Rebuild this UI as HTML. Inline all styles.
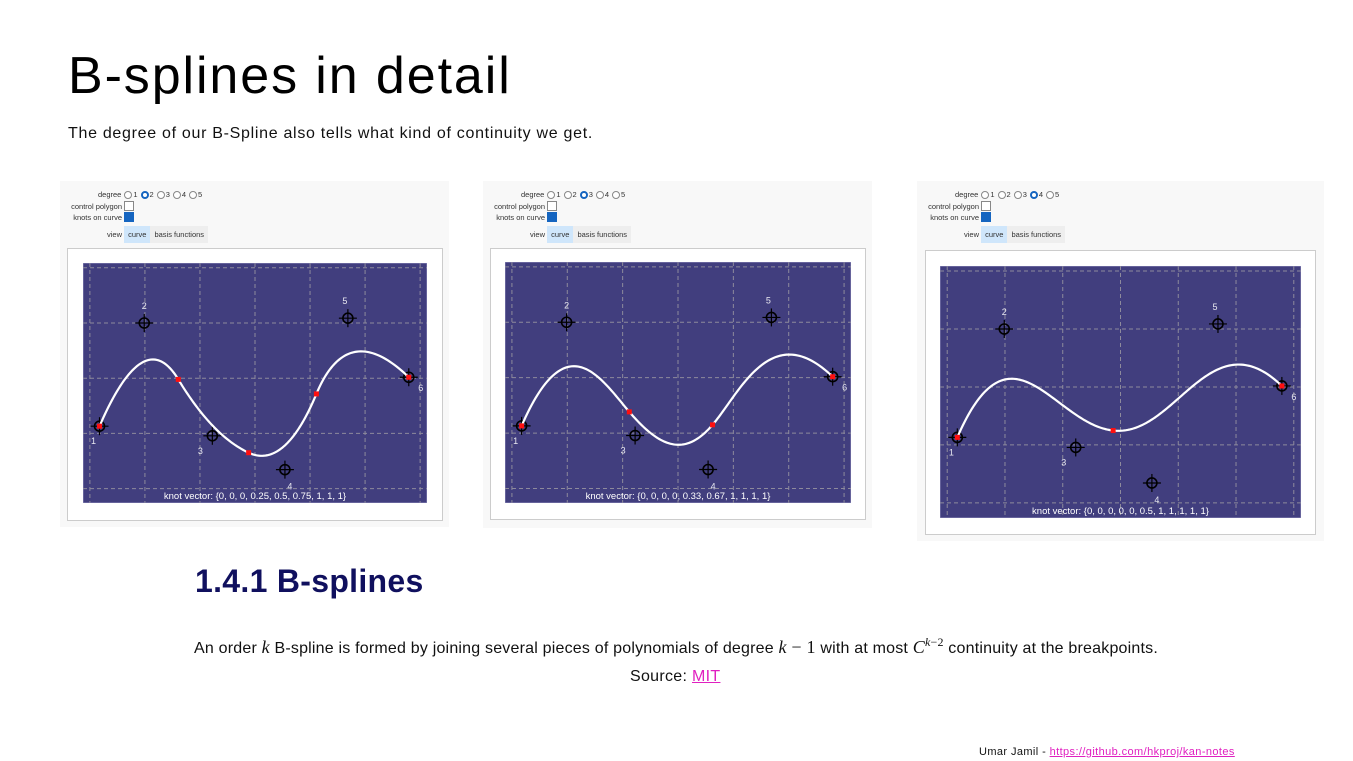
<!DOCTYPE html>
<html><head><meta charset="utf-8">
<style>
body{margin:0;width:1353px;height:761px;background:#fff;position:relative;overflow:hidden;font-family:"Liberation Sans",sans-serif;}
.abs{position:absolute;white-space:nowrap;}
.widget{position:absolute;background:#f8f8f8;}
.ctl{position:absolute;font-size:7.5px;color:#333;}
.radio{display:inline-block;width:8px;height:8px;border:1px solid #888;border-radius:50%;vertical-align:-2px;margin:0 1px 0 3px;background:#fff;box-sizing:border-box;}
.radio.on{border:2.5px solid #1565c0;}
.chk{display:inline-block;width:8px;height:8px;border:1px solid #888;vertical-align:-2px;margin-left:2px;background:#fff;}
.chk.on{background:#1565c0;border-color:#1565c0;}
.tab{display:inline-block;padding:3px 4px;background:#eee;}
.tab.on{background:#cfe6fb;}
.plotbox{position:absolute;background:#fff;border:1px solid #ccc;}
</style></head><body>
<div class="abs" style="left:68px;top:46px;font-size:52px;color:#000;letter-spacing:1.9px;">B-splines in detail</div>
<div class="abs" style="left:68px;top:125px;font-size:16px;color:#111;letter-spacing:0.7px;">The degree of our B-Spline also tells what kind of continuity we get.</div>
<div id="panels"></div>
<div class="abs" style="left:195px;top:563px;font-size:32px;font-weight:bold;color:#10105e;letter-spacing:0.3px;">1.4.1 B-splines</div>
<div class="abs" style="left:194px;top:635px;font-size:16px;color:#111;letter-spacing:0.2px;">An order <i style="font-family:'Liberation Serif',serif;font-size:18px;">k</i> B-spline is formed by joining several pieces of polynomials of degree <span style="font-family:'Liberation Serif',serif;font-size:18px;"><i>k</i> − 1</span> with at most <span style="font-family:'Liberation Serif',serif;font-size:18px;"><i>C</i><sup style="font-size:12px;"><i>k</i>−2</sup></span> continuity at the breakpoints.</div>
<div class="abs" style="left:630px;top:668px;font-size:16px;color:#111;letter-spacing:0.3px;">Source: <a style="color:#e020c0;text-decoration:underline;">MIT</a></div>
<div class="abs" style="left:979px;top:746px;font-size:11px;color:#111;letter-spacing:0.4px;">Umar Jamil - <a style="color:#e020c0;text-decoration:underline;">https://github.com/hkproj/kan-notes</a></div>
<script>
// control points (normalized within plot area)
const ctrlX = [0.048, 0.178, 0.376, 0.587, 0.770, 0.947];
const ctrlY = [0.680, 0.250, 0.720, 0.861, 0.230, 0.476];
const degrees = [2, 3, 4];
const knots1 = [0, 0, 0, 0.25, 0.5, 0.75, 1, 1, 1];
const knots2 = [0, 0, 0, 0, 0.33, 0.67, 1, 1, 1, 1];
const knots3 = [0, 0, 0, 0, 0, 0.5, 1, 1, 1, 1, 1];
const knotLabels = ["{0, 0, 0, 0.25, 0.5, 0.75, 1, 1, 1}", "{0, 0, 0, 0, 0.33, 0.67, 1, 1, 1, 1}", "{0, 0, 0, 0, 0, 0.5, 1, 1, 1, 1, 1}"];
const gridX = [0.02, 0.18, 0.34, 0.50, 0.66, 0.82, 0.98];
const gridY = [0.02, 0.25, 0.48, 0.71, 0.94];
const knotSets = [knots1, knots2, knots3];

const geo = [
 {wx:60,wy:181,ww:389,wh:346,bx:67,by:248,bw:376,bh:273,px:83,py:263,pw:344,ph:240},
 {wx:483,wy:181,ww:389,wh:347,bx:490,by:248,bw:376,bh:272,px:505,py:262,pw:346,ph:241},
 {wx:917,wy:181,ww:407,wh:360,bx:925,by:250,bw:391,bh:285,px:940,py:266,pw:361,ph:252}
];
function deBoor(t,k,p,U,P){
  let s=p; for(let i=p;i<U.length-p-1;i++){ if(t>=U[i]&&t<U[i+1]) s=i; }
  if(t>=U[U.length-p-1]) s=U.length-p-2;
  const d=[]; for(let j=0;j<=p;j++) d.push([P[j+s-p][0],P[j+s-p][1]]);
  for(let r=1;r<=p;r++) for(let j=p;j>=r;j--){
    const i=j+s-p; const den=U[i+p-r+1]-U[i]; const a=den===0?0:(t-U[i])/den;
    d[j]=[(1-a)*d[j-1][0]+a*d[j][0],(1-a)*d[j-1][1]+a*d[j][1]];
  }
  return d[p];
}
const NS="http://www.w3.org/2000/svg";
const root=document.getElementById('panels');
geo.forEach((g,pi)=>{
  const deg=degrees[pi];
  const w=document.createElement('div'); w.className='widget';
  
  
  w.style.cssText=`left:${g.wx}px;top:${g.wy}px;width:${g.ww}px;height:${g.wh}px;`;
  root.appendChild(w);
  let radios=''; for(let d=1;d<=5;d++) radios+=`<span class="radio${d===deg?' on':''}"></span>${d}`;
  const c=document.createElement('div'); c.className='ctl';
  
  
  c.style.cssText='left:0;top:8px;width:200px;line-height:11.5px;';
  c.innerHTML=`<div style="padding-left:38px">degree${radios}</div>
  <div style="width:62px;text-align:right;display:inline-block">control polygon</div><span class="chk"></span><br>
  <div style="width:62px;text-align:right;display:inline-block">knots on curve</div><span class="chk on"></span><br>
  <div style="margin-top:2px;"><span style="display:inline-block;width:62px;text-align:right;">view</span> <span class="tab on">curve</span><span class="tab">basis functions</span></div>`;
  w.appendChild(c);
  const b=document.createElement('div'); b.className='plotbox';
  
  
  b.style.cssText=`left:${g.bx}px;top:${g.by}px;width:${g.bw-2}px;height:${g.bh-2}px;`;
  root.appendChild(b);
  const svg=document.createElementNS(NS,'svg');
  
  
  svg.setAttribute('width',g.pw); svg.setAttribute('height',g.ph);
  svg.style.cssText=`position:absolute;left:${g.px}px;top:${g.py}px;`;
  root.appendChild(svg);
  const sx=v=>v*g.pw, sy=v=>v*g.ph;
  const mk=(tag,attrs)=>{const e=document.createElementNS(NS,tag);for(const k in attrs)e.setAttribute(k,attrs[k]);svg.appendChild(e);return e;};
  const bg=mk('rect',{x:0,y:0,width:g.pw,height:g.ph,fill:'#413e7e',stroke:'#8a88b8','stroke-width':1});
  
  
  gridX.forEach(v=>{const l=mk('line',{x1:sx(v),x2:sx(v),y1:0,y2:g.ph,stroke:'#8d8a9c','stroke-width':1,'stroke-dasharray':'4 3'});
    
    });
  gridY.forEach(v=>{const l=mk('line',{y1:sy(v),y2:sy(v),x1:0,x2:g.pw,stroke:'#8d8a9c','stroke-width':1,'stroke-dasharray':'4 3'});
    
    });
  const P=ctrlX.map((x,i)=>[sx(x),sy(ctrlY[i])]);
  const U=knotSets[pi];
  let d='';
  for(let i=0;i<=200;i++){const t=i/200;const q=deBoor(t,0,deg,U,P);d+=(i?'L':'M')+q[0].toFixed(2)+','+q[1].toFixed(2);}
  const offs=[[-6,18],[0,-14],[-12,18],[5,20],[-3,-14],[12,14]];
  P.forEach((q,i)=>{
    const gEl=document.createElementNS(NS,'g'); svg.appendChild(gEl);
    
    
    const add=(tag,a)=>{const e=document.createElementNS(NS,tag);for(const k in a)e.setAttribute(k,a[k]);gEl.appendChild(e);};
    add('circle',{cx:q[0],cy:q[1],r:5,fill:'none',stroke:'#000','stroke-width':1.6});
    add('line',{x1:q[0]-9,x2:q[0]+9,y1:q[1],y2:q[1],stroke:'#000','stroke-width':1.2});
    add('line',{x1:q[0],x2:q[0],y1:q[1]-9,y2:q[1]+9,stroke:'#000','stroke-width':1.2});
    const t=document.createElementNS(NS,'text');
    
    
    t.setAttribute('x',q[0]+offs[i][0]);t.setAttribute('y',q[1]+offs[i][1]);
    t.setAttribute('fill','#e8e8f0');t.setAttribute('font-size','9');t.setAttribute('text-anchor','middle');
    t.setAttribute('font-family','Liberation Sans, sans-serif');t.textContent=String(i+1);svg.appendChild(t);
  });
  const path=mk('path',{d:d,fill:'none',stroke:'#fff','stroke-width':2.2});
  
  
  const uniq=[...new Set(U)];
  uniq.forEach(u=>{const q=deBoor(u,0,deg,U,P);
    const r=mk('rect',{x:q[0]-2.5,y:q[1]-2.5,width:5,height:5,fill:'#ff1010'});
    
    });
  const kt=mk('text',{x:g.pw/2,y:g.ph-4,fill:'#fff','font-size':9.5,'text-anchor':'middle','font-family':'Liberation Sans, sans-serif'});
  
  
  kt.textContent='knot vector: '+knotLabels[pi];
});
</script>
</body></html>
